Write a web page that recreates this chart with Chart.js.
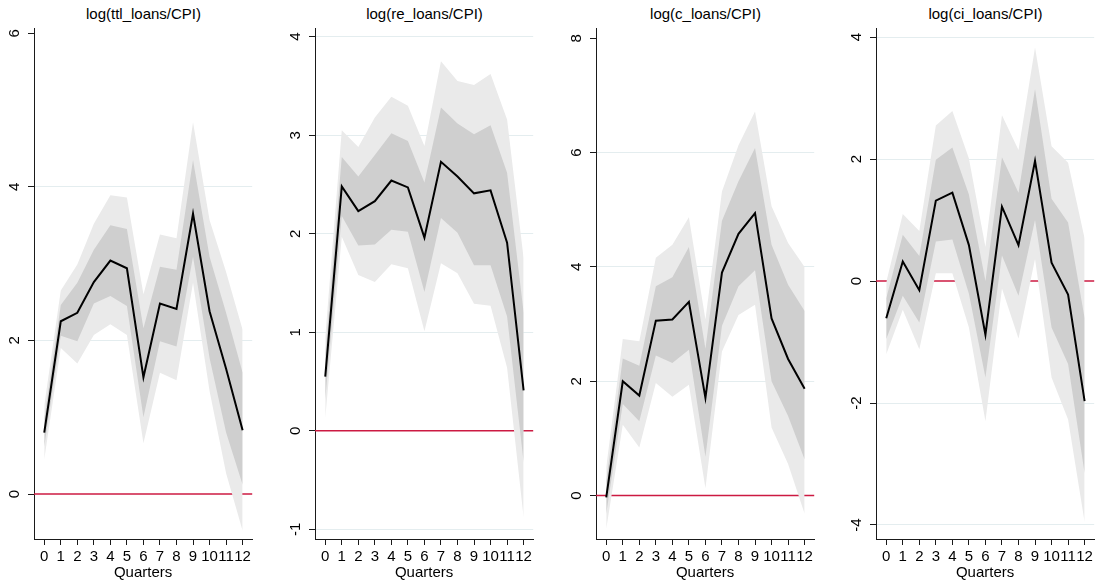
<!DOCTYPE html>
<html lang="en">
<head>
<meta charset="UTF-8">
<title>Impulse responses</title>
<script src="https://cdn.jsdelivr.net/npm/chart.js"></script>
<style>
  body { margin: 0; background: #fff; width: 1096px; height: 580px; position: relative; overflow: hidden; }
  .panel { position: absolute; top: 0; width: 254px; height: 580px; }
  .panel canvas { position: absolute; left: 0; top: 0; }
  .ttl { position: absolute; top: 5px; left: 34px; width: 219px; line-height: 17px; text-align: center;
         font: 15px "Liberation Sans", Arial, sans-serif; color: #000; white-space: nowrap; }
</style>
</head>
<body>

<div class="panel" style="left:0px"><div class="ttl" id="t0"></div><canvas id="c0" width="254" height="580"></canvas></div>
<div class="panel" style="left:281px"><div class="ttl" id="t1"></div><canvas id="c1" width="254" height="580"></canvas></div>
<div class="panel" style="left:562px"><div class="ttl" id="t2"></div><canvas id="c2" width="254" height="580"></canvas></div>
<div class="panel" style="left:842px"><div class="ttl" id="t3"></div><canvas id="c3" width="254" height="580"></canvas></div>

<script>
// horizon (quarters after the shock)
const quarters = [0, 1, 2, 3, 4, 5, 6, 7, 8, 9, 10, 11, 12];

// log(ttl_loans/CPI)
const ttlIrf  = [0.80, 2.25, 2.36, 2.76, 3.04, 2.94, 1.52, 2.48, 2.41, 3.65, 2.38, 1.63, 0.83];
const ttlHi68 = [0.98, 2.46, 2.75, 3.18, 3.50, 3.45, 2.16, 2.96, 2.92, 4.35, 3.09, 2.36, 1.58];
const ttlLo68 = [0.62, 2.06, 1.99, 2.48, 2.58, 2.45, 1.00, 1.99, 1.92, 3.09, 1.77, 0.80, 0.12];
const ttlHi90 = [1.15, 2.65, 2.99, 3.52, 3.89, 3.86, 2.60, 3.38, 3.33, 4.84, 3.57, 2.89, 2.14];
const ttlLo90 = [0.45, 1.90, 1.70, 2.07, 2.21, 2.07, 0.66, 1.58, 1.48, 2.75, 1.34, 0.27, -0.48];
const ttlTicks = [0, 2, 4, 6];

// log(re_loans/CPI)
const reIrf  = [0.55, 2.48, 2.23, 2.33, 2.54, 2.47, 1.96, 2.73, 2.58, 2.41, 2.44, 1.91, 0.41];
const reHi68 = [0.78, 2.78, 2.58, 2.80, 3.02, 2.94, 2.52, 3.28, 3.12, 3.01, 3.10, 2.62, 1.20];
const reLo68 = [0.32, 2.18, 1.88, 1.89, 2.04, 2.02, 1.41, 2.16, 2.01, 1.68, 1.68, 1.16, -0.32];
const reHi90 = [0.95, 3.05, 2.88, 3.18, 3.39, 3.30, 2.89, 3.75, 3.55, 3.51, 3.62, 3.16, 1.75];
const reLo90 = [0.13, 1.97, 1.58, 1.51, 1.69, 1.65, 1.01, 1.70, 1.60, 1.29, 1.27, 0.64, -0.88];
const reTicks = [-1, 0, 1, 2, 3, 4];

// log(c_loans/CPI)
const cIrf  = [-0.03, 2.00, 1.75, 3.06, 3.08, 3.39, 1.71, 3.90, 4.58, 4.94, 3.10, 2.39, 1.87];
const cHi68 = [0.26, 2.40, 2.27, 3.66, 3.82, 4.35, 2.57, 4.81, 5.50, 6.08, 4.39, 3.69, 3.23];
const cLo68 = [-0.32, 1.60, 1.30, 2.45, 2.32, 2.55, 0.68, 2.97, 3.66, 3.94, 2.00, 1.39, 0.63];
const cHi90 = [0.50, 2.74, 2.70, 4.16, 4.39, 4.87, 3.08, 5.32, 6.13, 6.72, 5.06, 4.42, 4.00];
const cLo90 = [-0.58, 1.24, 0.84, 1.97, 1.73, 1.94, 0.13, 2.52, 3.16, 3.34, 1.19, 0.55, -0.32];
const cTicks = [0, 2, 4, 6, 8];

// log(ci_loans/CPI)
const ciIrf  = [-0.61, 0.32, -0.15, 1.32, 1.45, 0.59, -0.88, 1.22, 0.59, 1.97, 0.30, -0.22, -1.97];
const ciHi68 = [-0.28, 0.76, 0.41, 1.99, 2.19, 1.42, 0.00, 2.03, 1.45, 3.15, 1.35, 0.96, -0.61];
const ciLo68 = [-0.95, -0.24, -0.68, 0.65, 0.68, -0.21, -1.58, 0.42, -0.24, 1.00, -0.76, -1.36, -3.15];
const ciHi90 = [-0.02, 1.10, 0.82, 2.55, 2.79, 2.01, 0.56, 2.72, 2.15, 3.83, 2.21, 1.94, 0.70];
const ciLo90 = [-1.20, -0.47, -1.12, 0.13, 0.13, -0.76, -2.30, -0.12, -0.94, 0.36, -1.58, -2.27, -3.95];
const ciTicks = [-4, -2, 0, 2, 4];

const FONT = '"Liberation Sans", Arial, sans-serif';
Chart.defaults.font.family = FONT;
Chart.defaults.font.size = 15;
Chart.defaults.color = '#000';

const pts = arr => quarters.map((q, i) => ({ x: q, y: arr[i] }));

// red reference line at zero, drawn under the bands
const zeroLine = {
  id: 'zeroLine',
  beforeDatasetsDraw(chart) {
    const { ctx, chartArea: a, scales: { y } } = chart;
    const py = y.getPixelForValue(0);
    ctx.save();
    ctx.strokeStyle = '#cc1a42';
    ctx.lineWidth = 1.5;
    ctx.beginPath();
    ctx.moveTo(a.left, py);
    ctx.lineTo(a.right, py);
    ctx.stroke();
    ctx.restore();
  }
};

function labelWidth(list) {
  const cx = document.createElement('canvas').getContext('2d');
  cx.font = '15px ' + FONT;
  return Math.max(...list.map(v => cx.measureText(String(v)).width));
}

function band(arr, color, fill) {
  return {
    data: pts(arr), borderWidth: 0, borderColor: 'rgba(0,0,0,0)',
    backgroundColor: color, pointRadius: 0, fill: fill
  };
}

function makePanel(n, title, irf, hi68, lo68, hi90, lo90, yTicks, yMin, yMax, noGrid) {
  document.getElementById('t' + n).textContent = title;
  const pad = 13 - labelWidth(yTicks) / 2;
  new Chart(document.getElementById('c' + n), {
    type: 'line',
    data: {
      datasets: [
        { data: pts(irf), borderColor: '#000', borderWidth: 2, pointRadius: 0, fill: false },
        band(hi68, '#cfcfcf', '+1'),
        band(lo68, '#cfcfcf', false),
        band(hi90, '#eaeaea', '+1'),
        band(lo90, '#eaeaea', false)
      ]
    },
    options: {
      responsive: false,
      animation: false,
      layout: { padding: { top: 28, left: 0, right: 1, bottom: 0 } },
      elements: { line: { tension: 0 } },
      plugins: {
        legend: { display: false },
        tooltip: { enabled: false },
        filler: { drawTime: 'beforeDatasetDraw' }
      },
      scales: {
        x: {
          type: 'linear', min: -0.62, max: 12.58,
          afterBuildTicks: s => { s.ticks = quarters.map(v => ({ value: v })); },
          afterFit: s => { s.height = 41; },
          ticks: { autoSkip: false, maxRotation: 0, minRotation: 0, padding: 3 },
          grid: { drawOnChartArea: false, tickLength: 6, tickColor: '#1a1a1a' },
          border: { color: '#1a1a1a', width: 1 },
          title: { display: true, text: 'Quarters', font: { size: 15, lineHeight: 1 }, padding: { top: 0, bottom: 0 } }
        },
        y: {
          min: yMin, max: yMax,
          afterBuildTicks: s => { s.ticks = yTicks.map(v => ({ value: v })); },
          afterFit: s => { s.width = 34; },
          ticks: { minRotation: 90, maxRotation: 90, crossAlign: 'center', padding: pad },
          grid: {
            tickLength: 6, tickColor: '#1a1a1a',
            color: c => (c.tick && (c.tick.value === 0 || noGrid.includes(c.tick.value))) ? 'rgba(0,0,0,0)' : '#e4edef'
          },
          border: { color: '#1a1a1a', width: 1 }
        }
      }
    },
    plugins: [zeroLine]
  });
}

makePanel(0, 'log(ttl_loans/CPI)', ttlIrf, ttlHi68, ttlLo68, ttlHi90, ttlLo90, ttlTicks, -0.586, 6.069, [6]);
makePanel(1, 'log(re_loans/CPI)', reIrf, reHi68, reLo68, reHi90, reLo90, reTicks, -1.098, 4.088, []);
makePanel(2, 'log(c_loans/CPI)', cIrf, cHi68, cLo68, cHi90, cLo90, cTicks, -0.76, 8.18, [8]);
makePanel(3, 'log(ci_loans/CPI)', ciIrf, ciHi68, ciLo68, ciHi90, ciLo90, ciTicks, -4.23, 4.15, []);
</script>

</body>
</html>
